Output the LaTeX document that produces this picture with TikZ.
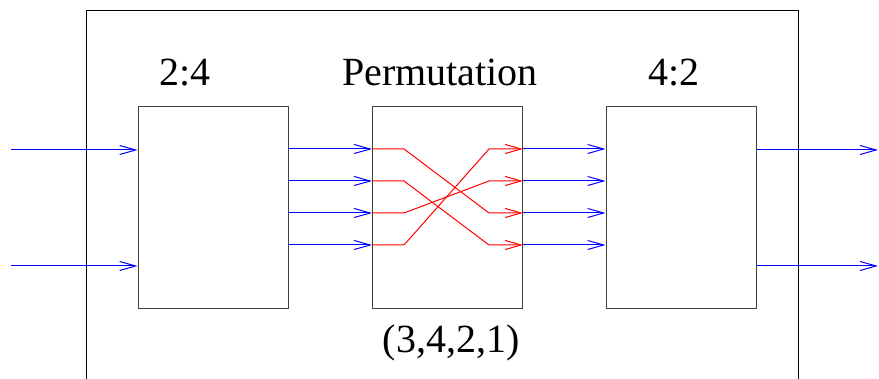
\documentclass[tikz,border=0pt]{standalone}
\usepackage{fontspec}
\setmainfont{Liberation Serif}
\usetikzlibrary{arrows.meta,calc}

\begin{document}
\begin{tikzpicture}[x=0.5pt,y=-0.5pt,line width=0.5pt,
    font=\fontsize{20pt}{24pt}\selectfont,
    >={Straight Barb[length=8pt,width=4.5pt,line width=0.5pt]},
    blk/.style={draw=black!75,rectangle,minimum width=75pt,minimum height=101pt,inner sep=0pt},
    sig/.style={->,blue},
    wire/.style={->,red},
    lbl/.style={anchor=base,inner sep=0pt}]
  \useasboundingbox (0,0) rectangle (879,379);
  \draw (86,379) |- (798,11) -- (798,379);
  \node[blk] (dec) at (213,208) {};
  \node[blk] (perm) at (447.5,208) {};
  \node[blk] (enc) at (681,208) {};
  \node[lbl] (declbl) at (185,86) {2:4};
  \node[lbl] (permlbl) at (440,86) {Permutation};
  \node[lbl] (enclbl) at (674,86) {4:2};
  \node[lbl] (perminfo) at (451,353) {(3,4,2,1)};
  \coordinate (inA) at (11,150);
  \coordinate (inB) at (11,266);
  \coordinate (outA) at (878,150);
  \coordinate (outB) at (878,266);
  \coordinate (bendL) at (404,0);
  \coordinate (bendR) at (489,0);
  \foreach \y [count=\i] in {149,181,213,245}
    \coordinate (p\i) at (0,\y);
  \draw[sig] (inA) -- (dec.west |- inA);
  \draw[sig] (inB) -- (dec.west |- inB);
  \draw[sig] (enc.east |- outA) -- (outA);
  \draw[sig] (enc.east |- outB) -- (outB);
  \foreach \i in {1,...,4} {
    \draw[sig] (dec.east |- p\i) -- (perm.west |- p\i);
    \draw[sig] (perm.east |- p\i) -- (enc.west |- p\i);
  }
  \foreach \a/\b in {1/3,2/4,3/2,4/1}
    \draw[wire] (perm.west |- p\a) -- (bendL |- p\a) -- (bendR |- p\b) -- (perm.east |- p\b);
\end{tikzpicture}
\end{document}
